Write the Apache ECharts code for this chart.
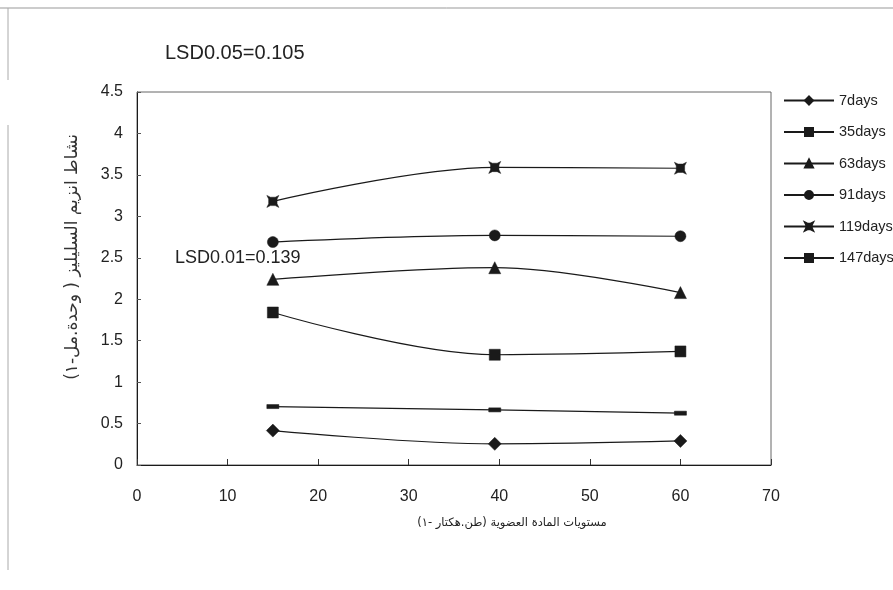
<!DOCTYPE html>
<html><head><meta charset="utf-8">
<script src="https://cdn.jsdelivr.net/npm/echarts@6/dist/echarts.min.js"></script>
<style>html,body{margin:0;padding:0;background:#fff}#c{width:893px;height:590px}</style>
</head><body><div id="c"></div>
<script>
const xLevels = [15, 39.5, 60];
const seriesNames = ['7days','35days','63days','91days','119days','147days'];
const d7   = [0.415, 0.255, 0.29];
const d35  = [1.84, 1.33, 1.37];
const d63  = [2.24, 2.38, 2.08];
const d91  = [2.69, 2.77, 2.76];
const d119 = [3.18, 3.59, 3.58];
const d147 = [0.705, 0.665, 0.625];
const yTicks = ['0','0.5','1','1.5','2','2.5','3','3.5','4','4.5'];
const xTicks = ['0','10','20','30','40','50','60','70'];
const lsd05 = 'LSD0.05=0.105';
const lsd01 = 'LSD0.01=0.139';
const yTitle = 'نشاط انزيم السليليز ( وحدة.مل-١)';
const xTitle = 'مستويات المادة العضوية (طن.هكتار -١)';

const allData = [d7, d35, d63, d91, d119, d147];
const symbols = [
  'diamond',
  'rect',
  'triangle',
  'circle',
  'path://M0,0L3,1.5L7,1.5L10,0L8.5,3L8.5,7L10,10L7,8.5L3,8.5L0,10L1.5,7L1.5,3Z',
  'rect'
];
const sizes = [13, 11, 12, 11, 12, [12, 4]];
const ink = '#1a1a1a';

const chart = echarts.init(document.getElementById('c'), null, {renderer: 'canvas'});
const series = seriesNames.map((n, i) => ({
  name: n,
  type: 'line',
  smooth: 0.35,
  data: xLevels.map((x, j) => [x, allData[i][j]]),
  symbol: symbols[i],
  symbolSize: sizes[i],
  showAllSymbol: true,
  lineStyle: {color: ink, width: 1.2},
  itemStyle: {color: ink, borderColor: ink, borderWidth: 0.5},
  emphasis: {disabled: true},
  z: 3
}));

chart.setOption({
  animation: false,
  backgroundColor: '#fff',
  textStyle: {fontFamily: 'Liberation Sans, Arial, sans-serif'},
  grid: {left: 137, right: 122, top: 92, bottom: 125, show: true, borderColor: '#666', borderWidth: 1},
  xAxis: {
    type: 'value', min: 0, max: 70, interval: 10,
    axisLine: {lineStyle: {color: ink, width: 1}},
    axisTick: {inside: true, length: 6, lineStyle: {color: '#333'}},
    axisLabel: {color: '#222', fontSize: 16, margin: 24,
      formatter: v => xTicks[Math.round(v / 10)]},
    splitLine: {show: false}
  },
  yAxis: {
    type: 'value', min: 0, max: 4.5, interval: 0.5,
    axisLine: {show: true, lineStyle: {color: ink, width: 1}},
    axisTick: {show: true, inside: true, length: 4, lineStyle: {color: '#555'}},
    axisLabel: {color: '#222', fontSize: 16, margin: 14,
      formatter: v => yTicks[Math.round(v / 0.5)]},
    splitLine: {show: false}
  },
  legend: {
    orient: 'vertical', left: 778, top: 88,
    itemWidth: 50, itemHeight: 10, itemGap: 16.5,
    data: seriesNames,
    textStyle: {color: '#222', fontSize: 14.5, padding: [0,0,0,0]},
    selectedMode: false
  },
  series: series,
  graphic: [
    {type: 'line', shape: {x1: 0, y1: 8, x2: 893, y2: 8}, style: {stroke: '#999', lineWidth: 1}},
    {type: 'line', shape: {x1: 8, y1: 8, x2: 8, y2: 80}, style: {stroke: '#aaa', lineWidth: 1}},
    {type: 'line', shape: {x1: 8, y1: 125, x2: 8, y2: 570}, style: {stroke: '#aaa', lineWidth: 1}},
    {type: 'text', left: 165, top: 43, style: {text: lsd05, fontSize: 20, fill: '#222', fontFamily: 'Liberation Sans, Arial, sans-serif'}},
    {type: 'text', left: 175, top: 249, z: 10, style: {text: lsd01, fontSize: 18, fill: '#222', fontFamily: 'Liberation Sans, Arial, sans-serif'}},
    {type: 'text', x: 73, y: 257, rotation: Math.PI / 2,
      style: {text: yTitle, fontSize: 17, fill: '#333', align: 'center', verticalAlign: 'middle', fontFamily: 'DejaVu Sans, sans-serif'}},
    {type: 'text', x: 512, y: 523,
      style: {text: xTitle, fontSize: 11.5, fill: '#222', align: 'center', verticalAlign: 'middle', fontFamily: 'DejaVu Sans, sans-serif'}}
  ]
});
</script>
</body></html>
